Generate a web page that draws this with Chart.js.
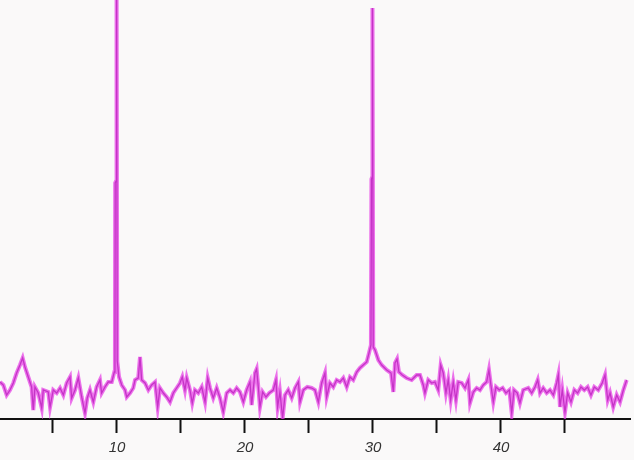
<!DOCTYPE html>
<html>
<head>
<meta charset="utf-8">
<script src="https://cdn.jsdelivr.net/npm/chart.js@4.4.0/dist/chart.umd.min.js"></script>
<style>
  html, body { margin: 0; padding: 0; background: #faf9f9; }
  #wrap { width: 634px; height: 460px; }
</style>
</head>
<body>
<div id="wrap"><canvas id="myChart"></canvas></div>
<script>
// posiciones (eje x) y alturas de la señal
const posiciones = [
  0.86, 1.12, 1.38, 1.64, 1.90, 2.16, 2.42, 2.63, 2.81, 3.07, 3.33, 3.46, 3.59, 3.85, 4.12, 4.24,
  4.63, 4.77, 5.02, 5.29, 5.55, 5.81, 6.07, 6.33, 6.46, 6.72, 6.98, 7.24, 7.50, 7.68, 7.89, 8.15,
  8.41, 8.67, 8.80, 9.06, 9.32, 9.59, 9.79, 9.84, 9.86, 9.93, 9.97, 10.02, 10.16, 10.37, 10.63, 10.76,
  11.02, 11.27, 11.41, 11.66, 11.80, 11.93, 12.19, 12.45, 12.71, 12.97, 13.18, 13.36, 13.62, 13.88, 14.14, 14.40,
  14.66, 14.92, 15.10, 15.31, 15.45, 15.70, 15.88, 16.09, 16.35, 16.62, 16.88, 17.09, 17.27, 17.52, 17.79, 18.05,
  18.30, 18.57, 18.83, 19.09, 19.35, 19.61, 19.87, 20.13, 20.39, 20.52, 20.78, 20.91, 21.04, 21.17, 21.38, 21.64,
  21.90, 22.21, 22.42, 22.55, 22.73, 22.94, 23.13, 23.38, 23.65, 23.91, 24.17, 24.30, 24.56, 24.87, 25.21, 25.47,
  25.73, 25.99, 26.25, 26.38, 26.64, 26.90, 27.16, 27.42, 27.68, 27.95, 28.20, 28.46, 28.73, 28.98, 29.24, 29.51,
  29.69, 29.84, 29.88, 29.94, 29.96, 30.02, 30.16, 30.42, 30.68, 31.07, 31.41, 31.59, 31.72, 31.88, 32.03, 32.29,
  32.63, 33.02, 33.41, 33.67, 33.93, 34.06, 34.32, 34.59, 34.84, 35.10, 35.29, 35.49, 35.70, 35.88, 36.07, 36.27,
  36.48, 36.66, 36.93, 37.19, 37.45, 37.58, 37.84, 38.10, 38.36, 38.62, 38.88, 39.06, 39.19, 39.40, 39.61, 39.87,
  40.13, 40.39, 40.65, 40.84, 41.02, 41.27, 41.48, 41.74, 42.13, 42.40, 42.66, 42.87, 43.05, 43.30, 43.57, 43.83,
  44.09, 44.35, 44.48, 44.61, 44.79, 45.00, 45.21, 45.47, 45.73, 45.99, 46.25, 46.51, 46.77, 47.03, 47.29, 47.60,
  47.91, 48.13, 48.34, 48.52, 48.77, 49.04, 49.30, 49.56, 49.82
];
const intensidades = [
  37, 34, 24, 29, 36, 46, 54, 61, 52, 42, 32, 9, 32, 26, 11, 29,
  27, 12, 29, 26, 31, 24, 36, 42, 21, 29, 41, 22, 6, 21, 29, 17,
  32, 39, 26, 32, 37, 37, 47, 55, 236, 238, 440, 58, 42, 34, 29, 22,
  26, 31, 39, 41, 62, 39, 36, 29, 34, 37, 12, 31, 26, 22, 17, 26,
  31, 36, 42, 29, 41, 29, 16, 29, 26, 32, 17, 41, 31, 21, 31, 21,
  7, 26, 29, 26, 31, 27, 17, 29, 37, 14, 46, 50, 32, 12, 27, 22,
  26, 29, 39, 12, 27, 1, 24, 29, 21, 31, 37, 17, 29, 32, 31, 29,
  17, 36, 46, 22, 36, 32, 39, 37, 41, 32, 42, 39, 47, 51, 54, 57,
  66, 74, 240, 242, 411, 72, 69, 59, 54, 49, 46, 27, 56, 60, 47, 44,
  41, 39, 44, 44, 34, 26, 39, 36, 37, 29, 54, 46, 26, 39, 19, 37,
  19, 37, 36, 31, 39, 16, 27, 31, 29, 34, 37, 49, 36, 17, 32, 29,
  31, 26, 29, 6, 29, 26, 16, 29, 31, 26, 32, 39, 26, 31, 26, 29,
  24, 36, 44, 12, 29, 7, 26, 17, 29, 26, 32, 29, 32, 24, 32, 29,
  36, 44, 19, 26, 12, 24, 17, 29, 39
];
const marcasX = [5, 10, 15, 20, 25, 30, 35, 40, 45];
const etiquetasX = [10, 20, 30, 40];

const puntos = posiciones.map((x, i) => ({ x: x, y: intensidades[i] }));

const fondo = {
  id: 'fondo',
  beforeDraw(chart) {
    const c = chart.ctx;
    c.save();
    c.fillStyle = '#faf9f9';
    c.fillRect(0, 0, chart.width, chart.height);
    c.restore();
  }
};

const ctx = document.getElementById('myChart').getContext('2d');
const chart = new Chart(ctx, {
  type: 'line',
  data: {
    datasets: [
      {
        data: puntos,
        borderColor: 'rgba(230, 55, 230, 0.7)',
        borderWidth: 4,
        pointRadius: 0,
        tension: 0,
        fill: false
      },
      {
        data: puntos,
        borderColor: '#7a2a7e',
        borderWidth: 1.3,
        pointRadius: 0,
        tension: 0,
        fill: false
      }
    ]
  },
  options: {
    responsive: true,
    maintainAspectRatio: false,
    animation: false,
    layout: { padding: { left: 0, right: 4, top: 0, bottom: 0 } },
    plugins: { legend: { display: false }, tooltip: { enabled: false } },
    scales: {
      x: {
        type: 'linear',
        min: 0.86,
        max: 50.08,
        afterBuildTicks(scale) {
          scale.ticks = marcasX.map(v => ({ value: v }));
        },
        afterFit(scale) {
          scale.height = 41;
        },
        grid: {
          drawOnChartArea: false,
          drawTicks: true,
          tickLength: 14,
          tickWidth: 2,
          tickColor: '#111'
        },
        border: { display: true, color: '#111', width: 2 },
        ticks: {
          autoSkip: false,
          maxRotation: 0,
          padding: 6,
          color: '#333',
          font: { family: 'Liberation Sans', size: 15, style: 'italic' },
          callback: v => etiquetasX.includes(v) ? String(v) : ''
        }
      },
      y: {
        display: false,
        min: 0,
        max: 419
      }
    }
  },
  plugins: [fondo]
});
</script>
</body>
</html>
